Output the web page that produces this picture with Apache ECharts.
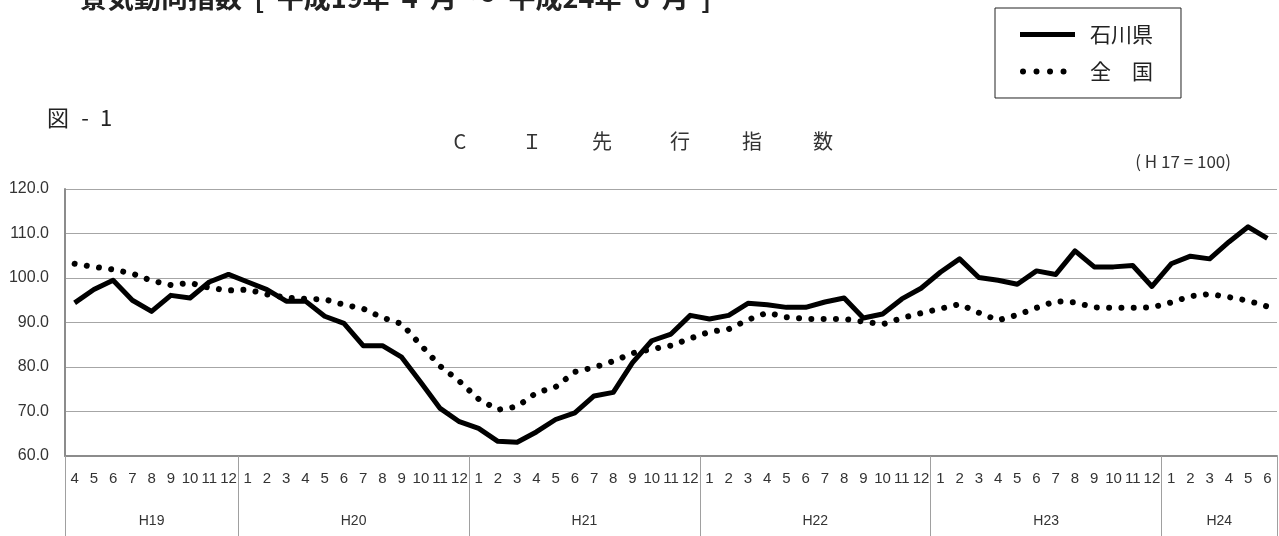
<!DOCTYPE html>
<html>
<head>
<meta charset="utf-8">
<script src="https://cdn.jsdelivr.net/npm/echarts@6/dist/echarts.min.js"></script>
<style>
html,body{margin:0;padding:0;background:#fff;}
#c{width:1279px;height:536px;}
</style>
</head>
<body>
<div id="c"></div>
<script>
// ---- data ----
const years = ['H19', 'H20', 'H21', 'H22', 'H23', 'H24'];
const monthsPerYear = [9, 12, 12, 12, 12, 6];
const monthLabels = [
  '4','5','6','7','8','9','10','11','12',
  '1','2','3','4','5','6','7','8','9','10','11','12',
  '1','2','3','4','5','6','7','8','9','10','11','12',
  '1','2','3','4','5','6','7','8','9','10','11','12',
  '1','2','3','4','5','6','7','8','9','10','11','12',
  '1','2','3','4','5','6'
];
const ishikawa = [
  94.4, 97.4, 99.5, 95.0, 92.5, 96.1, 95.5, 99.1, 100.8,
  99.1, 97.4, 94.8, 94.8, 91.4, 89.8, 84.8, 84.8, 82.2, 76.5, 70.7, 67.7,
  66.2, 63.3, 63.1, 65.4, 68.2, 69.7, 73.5, 74.3, 81.0, 85.9, 87.4, 91.6,
  90.8, 91.6, 94.3, 94.0, 93.4, 93.4, 94.6, 95.5, 91.0, 91.9, 95.3, 97.7,
  101.3, 104.3, 100.1, 99.5, 98.6, 101.6, 100.8, 106.1, 102.5, 102.5, 102.8, 98.1,
  103.2, 104.9, 104.3, 108.1, 111.5, 108.9
];
const national = [
  103.2, 102.5, 101.9, 101.0, 99.4, 98.4, 98.9, 97.8, 97.2,
  97.4, 96.3, 95.6, 95.3, 95.2, 94.0, 93.1, 91.1, 89.7, 84.9, 80.2, 76.8,
  72.8, 70.4, 71.1, 74.2, 75.5, 78.9, 79.9, 81.3, 83.1, 84.0, 84.8, 86.4,
  87.9, 88.5, 90.6, 92.2, 91.2, 90.8, 90.8, 90.8, 90.2, 89.6, 91.0, 92.1,
  93.1, 94.1, 92.2, 90.5, 91.7, 93.3, 94.8, 94.5, 93.4, 93.3, 93.3, 93.4,
  94.5, 95.9, 96.4, 95.7, 94.9, 93.6
];
const seriesNames = ['石川県', '全　国'];
const yTicks = {min: 60, max: 120, step: 10};

// year boundaries / centres derived from month counts
const yearBounds = [0];
monthsPerYear.forEach(n => yearBounds.push(yearBounds[yearBounds.length - 1] + n));
const yearCenters = monthsPerYear.map((n, i) => yearBounds[i] + n / 2);
const total = yearBounds[yearBounds.length - 1];

const latin = "'Liberation Sans', Arial, sans-serif";
const cjk = "'Noto Sans CJK JP', sans-serif";

const solidStyle = {color: '#000', width: 5, join: 'round'};
const dotStyle = {color: '#000', width: 6, type: [0.01, 12.3], cap: 'round'};

const chart = echarts.init(document.getElementById('c'), null, {renderer: 'canvas'});
chart.setOption({
  animation: false,
  backgroundColor: '#fff',
  grid: {left: 65, right: 2, top: 189, bottom: 80, containLabel: false},
  legend: {
    orient: 'vertical',
    left: 995, top: 8,
    data: [
      {name: seriesNames[0], lineStyle: {width: 5, color: '#000'}},
      {name: seriesNames[1], lineStyle: {width: 6, color: '#000', type: [0.01, 13.5], cap: 'round', dashOffset: -3}}
    ],
    itemWidth: 55, itemHeight: 20, itemGap: 16,
    padding: [16, 28, 16, 22],
    borderColor: '#222', borderWidth: 1,
    itemStyle: {opacity: 0},
    textStyle: {fontFamily: cjk, fontSize: 21, color: '#222', padding: [0, 0, 0, 10]},
    selectedMode: false
  },
  xAxis: [
    {
      type: 'category',
      data: monthLabels,
      boundaryGap: true,
      position: 'bottom',
      axisLine: {show: true, lineStyle: {color: '#8c8c8c', width: 2}},
      axisTick: {show: false},
      axisLabel: {interval: 0, fontSize: 15, margin: 15, color: '#333', fontFamily: latin, hideOverlap: false}
    },
    {
      type: 'value',
      min: 0, max: total,
      position: 'bottom',
      axisLine: {show: false},
      splitLine: {show: false},
      axisTick: {show: true, customValues: yearBounds, length: 81, lineStyle: {color: '#a0a0a0', width: 1}},
      axisLabel: {
        customValues: yearCenters,
        margin: 58,
        fontSize: 14,
        color: '#333',
        fontFamily: latin,
        formatter: function (v) {
          const i = yearCenters.findIndex(c => Math.abs(c - v) < 1e-6);
          return i >= 0 ? years[i] : '';
        }
      }
    }
  ],
  yAxis: {
    type: 'value',
    min: yTicks.min, max: yTicks.max, interval: yTicks.step,
    axisLine: {show: true, lineStyle: {color: '#8c8c8c', width: 2}},
    axisTick: {show: false},
    splitLine: {show: true, lineStyle: {color: '#a6a6a6', width: 1}},
    axisLabel: {formatter: v => v.toFixed(1), fontSize: 16, margin: 16, color: '#333', fontFamily: latin}
  },
  series: [
    {
      name: seriesNames[1], type: 'line', xAxisIndex: 0, data: national,
      symbol: 'none', silent: true,
      lineStyle: dotStyle
    },
    {
      name: seriesNames[0], type: 'line', xAxisIndex: 0, data: ishikawa,
      symbol: 'none', silent: true,
      lineStyle: solidStyle
    }
  ],
  graphic: [
    {type: 'text', x: 80, y: -2, style: {text: '景気動向指数  [  平成19年  4  月  ～  平成24年  6  月  ]', font: 'bold 27px ' + cjk, fill: '#222', textVerticalAlign: 'middle'}},
    {type: 'text', x: 58, y: 118, style: {text: '図', font: '22px ' + cjk, fill: '#222', textAlign: 'center', textVerticalAlign: 'middle'}},
    {type: 'text', x: 85, y: 118, style: {text: '-', font: '22px ' + cjk, fill: '#222', textAlign: 'center', textVerticalAlign: 'middle'}},
    {type: 'text', x: 106, y: 118, style: {text: '1', font: '22px ' + cjk, fill: '#222', textAlign: 'center', textVerticalAlign: 'middle'}},
    {type: 'text', x: 460, y: 141, style: {text: 'C', font: '20px ' + cjk, fill: '#333', textAlign: 'center', textVerticalAlign: 'middle'}},
    {type: 'text', x: 532, y: 141, style: {text: 'Ｉ', font: '20px ' + cjk, fill: '#333', textAlign: 'center', textVerticalAlign: 'middle'}},
    {type: 'text', x: 602, y: 141, style: {text: '先', font: '20px ' + cjk, fill: '#333', textAlign: 'center', textVerticalAlign: 'middle'}},
    {type: 'text', x: 680, y: 141, style: {text: '行', font: '20px ' + cjk, fill: '#333', textAlign: 'center', textVerticalAlign: 'middle'}},
    {type: 'text', x: 752, y: 141, style: {text: '指', font: '20px ' + cjk, fill: '#333', textAlign: 'center', textVerticalAlign: 'middle'}},
    {type: 'text', x: 823, y: 141, style: {text: '数', font: '20px ' + cjk, fill: '#333', textAlign: 'center', textVerticalAlign: 'middle'}},
    {type: 'text', x: 1231, y: 162, style: {text: '( H 17 = 100)', font: '17px ' + cjk, fill: '#333', textAlign: 'right', textVerticalAlign: 'middle'}}
  ]
});
</script>
</body>
</html>
